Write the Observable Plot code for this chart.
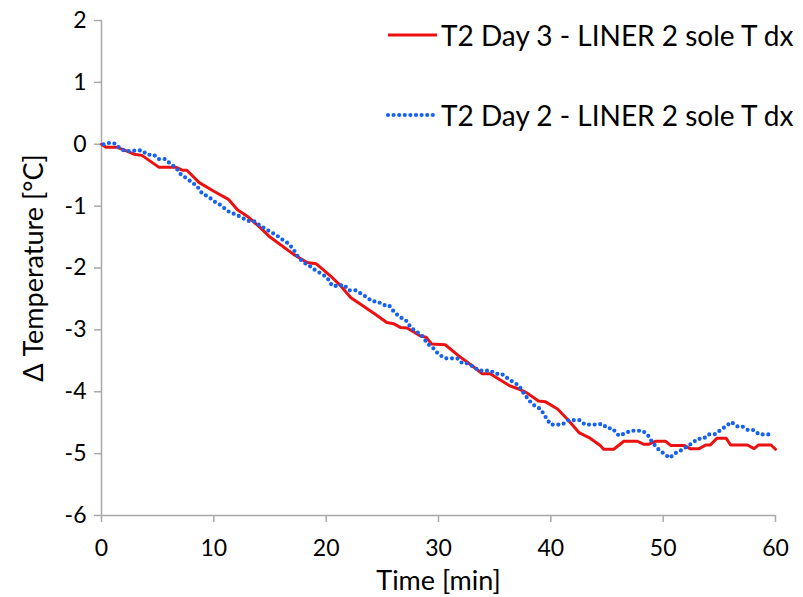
<!DOCTYPE html>
<html>
<head>
<meta charset="utf-8">
<script src="https://cdn.jsdelivr.net/npm/d3@7"></script>
<script src="https://cdn.jsdelivr.net/npm/@observablehq/plot@0.6"></script>
<style>
  html, body { margin: 0; padding: 0; background: white; }
  #wrap { position: relative; width: 803px; height: 597px; font-family: Lato, "Open Sans", sans-serif; overflow: hidden; }
  #legend { position: absolute; left: 385px; top: 14px; font-size: 28px; color: #000; }
  .item { display: flex; align-items: center; height: 42px; white-space: nowrap; }
  .item svg { margin-right: 2px; }
</style>
</head>
<body>
<div id="wrap">
  <div id="chart"></div>
  <div id="legend"></div>
</div>
<script>
// Series names
const seriesNames = ["T2 Day 3 - LINER 2 sole T dx", "T2 Day 2 - LINER 2 sole T dx"];

// Series 1 (red, solid): T2 Day 3
const redTime  = [0, 0.4, 1.4, 2.1, 2.9, 3.6, 5.1, 6.6, 7.2, 7.6, 8.7, 10, 11.3, 12.1, 13.1, 14.2, 15, 17.1, 18.3, 19.1, 20.4, 21.3, 22.2, 23.1, 24.4, 25.4, 26, 26.6, 27.2, 28.4, 28.9, 29.4, 30.6, 31.8, 33, 33.9, 34.6, 36.3, 37.2, 37.8, 38.9, 39.5, 40.6, 41.6, 42.5, 43.4, 44.4, 44.7, 45.6, 46.5, 47.7, 48.3, 48.7, 49.3, 50.2, 50.7, 51.9, 52.4, 53.2, 53.8, 54.2, 54.8, 55.6, 56, 57.5, 58.1, 58.5, 59.6, 60];
const redDelta = [0, -0.05, -0.05, -0.1, -0.16, -0.18, -0.37, -0.37, -0.42, -0.42, -0.62, -0.76, -0.89, -1.06, -1.18, -1.36, -1.5, -1.78, -1.91, -1.93, -2.13, -2.29, -2.48, -2.59, -2.75, -2.88, -2.9, -2.96, -2.97, -3.1, -3.12, -3.23, -3.24, -3.42, -3.58, -3.71, -3.71, -3.9, -3.96, -4.01, -4.15, -4.16, -4.28, -4.47, -4.66, -4.74, -4.87, -4.93, -4.93, -4.8, -4.8, -4.85, -4.85, -4.8, -4.8, -4.87, -4.87, -4.92, -4.92, -4.86, -4.86, -4.75, -4.75, -4.86, -4.86, -4.92, -4.86, -4.86, -4.93];

// Series 2 (blue, dotted): T2 Day 2
const blueTime  = [0.18, 0.65, 1.1, 1.54, 2.07, 2.58, 3.18, 3.62, 4.07, 4.66, 5.1, 5.7, 6.14, 6.59, 7.03, 7.48, 8.08, 8.52, 8.97, 9.55, 10, 10.5, 11.04, 11.49, 11.93, 12.53, 13.12, 13.56, 14.0, 14.6, 15.2, 15.65, 16.09, 16.68, 17.12, 17.57, 18.01, 18.55, 19.06, 19.65, 20.1, 20.54, 21.13, 21.58, 22.02, 22.62, 23.06, 23.6, 24.1, 24.55, 25.14, 25.58, 26.09, 26.63, 27.07, 27.58, 28.05, 28.56, 29.0, 29.5, 30.04, 30.63, 31.08, 31.67, 32.12, 32.56, 33.15, 33.6, 34.19, 34.64, 35.08, 35.62, 36.13, 36.62, 37.16, 37.6, 38.11, 38.58, 39.09, 39.54, 39.98, 40.58, 41.02, 41.56, 42.06, 42.56, 43.04, 43.54, 44.14, 44.59, 45.03, 45.47, 46.06, 46.51, 47.1, 47.6, 48.15, 48.6, 49.04, 49.63, 50.07, 50.58, 51.02, 51.56, 52.09, 52.6, 53.05, 53.58, 54.08, 54.57, 55.1, 55.57, 56.07, 56.6, 57.05, 57.55, 58.09, 58.53, 59.04, 59.57];
const blueDelta = [0, 0.02, 0.02, -0.05, -0.11, -0.11, -0.1, -0.1, -0.17, -0.17, -0.24, -0.24, -0.32, -0.37, -0.48, -0.54, -0.62, -0.68, -0.8, -0.85, -0.92, -0.97, -1.05, -1.11, -1.13, -1.19, -1.24, -1.24, -1.3, -1.37, -1.43, -1.48, -1.54, -1.61, -1.71, -1.84, -1.91, -1.97, -2.04, -2.1, -2.16, -2.29, -2.29, -2.27, -2.36, -2.36, -2.41, -2.47, -2.54, -2.54, -2.6, -2.6, -2.72, -2.8, -2.84, -2.97, -3.03, -3.1, -3.22, -3.29, -3.4, -3.46, -3.46, -3.46, -3.54, -3.54, -3.6, -3.66, -3.66, -3.66, -3.71, -3.71, -3.78, -3.84, -3.9, -4.03, -4.15, -4.23, -4.28, -4.41, -4.53, -4.53, -4.53, -4.46, -4.46, -4.46, -4.53, -4.53, -4.53, -4.52, -4.59, -4.59, -4.71, -4.68, -4.63, -4.63, -4.63, -4.69, -4.82, -4.94, -5.0, -5.07, -5.0, -4.95, -4.89, -4.83, -4.76, -4.76, -4.69, -4.69, -4.62, -4.56, -4.49, -4.56, -4.56, -4.62, -4.62, -4.69, -4.69, -4.69];

// Axis ticks and titles
const xTicks = [0, 10, 20, 30, 40, 50, 60];
const yTicks = [-6, -5, -4, -3, -2, -1, 0, 1, 2];
const xTitle = "Time [min]";
const yTitle = "Δ Temperature [°C]";

const red = redTime.map((t, i) => ({t, v: redDelta[i]}));
const blue = blueTime.map((t, i) => ({t, v: blueDelta[i]}));

const RED = "#ec1111";
const BLUE = "#1561f2";
const AXIS = "#a8a8a8";
const fmt = d => `${d}`;

const chart = Plot.plot({
  width: 803,
  height: 597,
  marginLeft: 101,
  marginRight: 28,
  marginTop: 20,
  marginBottom: 82,
  style: {fontFamily: "Lato, 'Open Sans', sans-serif", fontSize: "23px", background: "white", color: "black", overflow: "visible"},
  x: {domain: [0, 60]},
  y: {domain: [-6, 2]},
  marks: [
    Plot.ruleY([-6], {stroke: AXIS, strokeWidth: 1.5}),
    Plot.ruleX([0], {stroke: AXIS, strokeWidth: 1.5}),
    Plot.axisX(xTicks, {tickSize: 7, tickPadding: 17, tickFormat: fmt, stroke: AXIS, strokeWidth: 1.5, fill: "black", fontSize: 23,
      label: xTitle, labelAnchor: "center", labelArrow: "none", labelOffset: 74}),
    Plot.axisY(yTicks, {tickSize: 7, tickPadding: 8, tickFormat: fmt, stroke: AXIS, strokeWidth: 1.5, fill: "black", fontSize: 23,
      label: yTitle, labelAnchor: "center", labelArrow: "none", labelOffset: 78}),
    Plot.line(red, {x: "t", y: "v", stroke: RED, strokeWidth: 3, strokeLinejoin: "round"}),
    Plot.line(blue, {x: "t", y: "v", stroke: BLUE, strokeWidth: 4.2, strokeLinecap: "round", strokeDasharray: "0,5.6"})
  ]
});
// enlarge axis titles
chart.querySelectorAll("[aria-label='x-axis label'] text, [aria-label='y-axis label'] text").forEach(t => t.setAttribute("font-size", "27"));
document.getElementById("chart").appendChild(chart);

// Legend
const legend = d3.select("#legend");
const items = [
  {name: seriesNames[0], stroke: RED, width: 3, dash: null, cap: "butt"},
  {name: seriesNames[1], stroke: BLUE, width: 4.2, dash: "0,5.6", cap: "round"}
];
items.forEach((d, i) => {
  const row = legend.append("div").attr("class", "item").style("margin-top", i === 0 ? "0px" : "38px");
  const s = row.append("svg").attr("width", 54).attr("height", 10);
  s.append("line").attr("x1", 3).attr("x2", 52).attr("y1", 5).attr("y2", 5)
    .attr("stroke", d.stroke).attr("stroke-width", d.width)
    .attr("stroke-linecap", d.cap).attr("stroke-dasharray", d.dash);
  row.append("span").text(d.name);
});
</script>
</body>
</html>
